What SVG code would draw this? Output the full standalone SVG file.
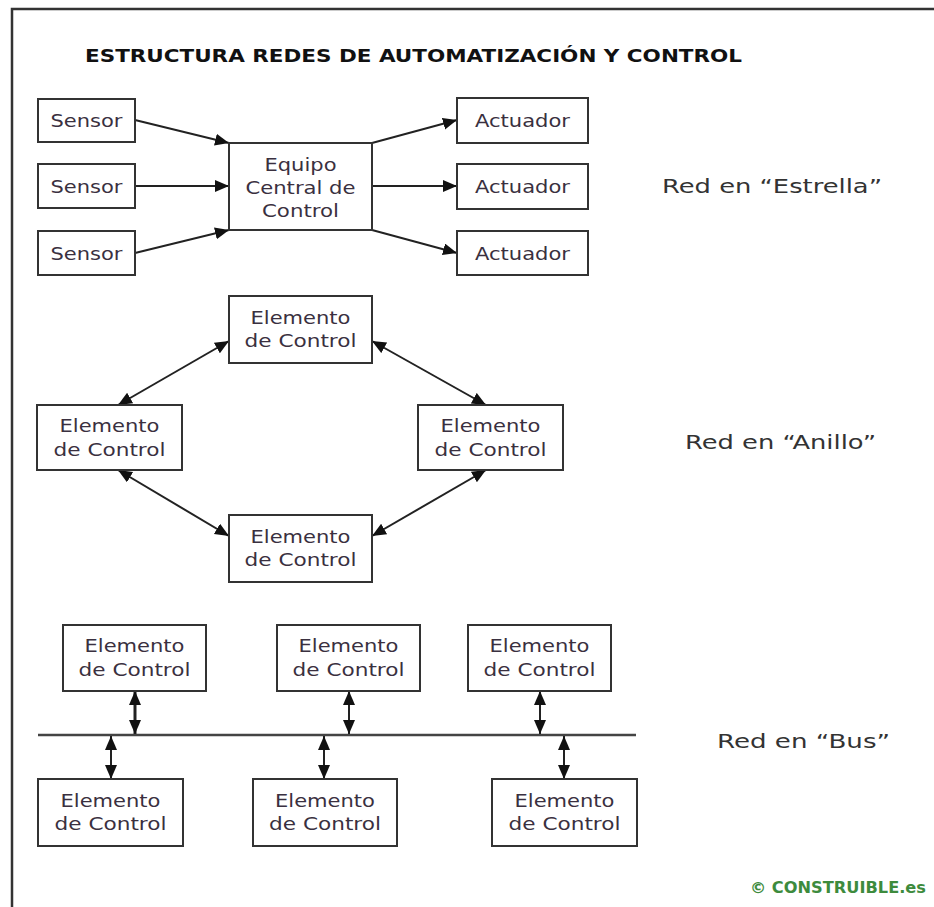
<svg xmlns="http://www.w3.org/2000/svg" width="934" height="907" viewBox="0 0 934 907">
<style>
.box{fill:#fff;stroke:#333;stroke-width:2}
.lbl{font-family:"DejaVu Sans",Verdana,sans-serif;font-size:18px;fill:#3a3040;text-anchor:middle}
.side{font-family:"DejaVu Sans",Verdana,sans-serif;font-size:20px;fill:#333;text-anchor:start}
.title{font-family:"DejaVu Sans",Verdana,sans-serif;font-size:17px;font-weight:bold;fill:#111}
.copy{font-family:"DejaVu Sans",Verdana,sans-serif;font-size:15px;font-weight:bold;fill:#3d8b3d}
.ln{stroke:#222;stroke-width:2;fill:none}
.one{marker-end:url(#ah)}
.two{marker-start:url(#ah);marker-end:url(#ah)}
</style>
<defs>
<marker id="ah" markerUnits="userSpaceOnUse" markerWidth="16" markerHeight="14" refX="14" refY="6" orient="auto-start-reverse">
<path d="M0,0 L14,6 L0,12 Z" fill="#111"/>
</marker>
</defs>
<rect x="0" y="0" width="934" height="907" fill="#fff"/>
<path d="M12,907 V9 H934" fill="none" stroke="#333" stroke-width="2.5"/>
<text class="title" x="85" y="62" textLength="657" lengthAdjust="spacingAndGlyphs">ESTRUCTURA REDES DE AUTOMATIZACIÓN Y CONTROL</text>

<g id="connectors">
<line class="ln one" x1="135" y1="120" x2="229" y2="143"/>
<line class="ln one" x1="135" y1="186" x2="229" y2="186"/>
<line class="ln one" x1="135" y1="253" x2="229" y2="230"/>
<line class="ln one" x1="372" y1="143" x2="457" y2="120"/>
<line class="ln one" x1="372" y1="186" x2="457" y2="186"/>
<line class="ln one" x1="372" y1="230" x2="457" y2="253"/>
<line class="ln two" x1="229" y1="341" x2="118" y2="405"/>
<line class="ln two" x1="372" y1="341" x2="486" y2="405"/>
<line class="ln two" x1="118" y1="470" x2="229" y2="536"/>
<line class="ln two" x1="486" y1="470" x2="372" y2="536"/>
<line x1="38" y1="735" x2="636" y2="735" stroke="#444" stroke-width="2.5"/>
<line class="ln two" x1="135" y1="691" x2="135" y2="734" style="stroke-width:3"/>
<line class="ln two" x1="349" y1="691" x2="349" y2="734"/>
<line class="ln two" x1="540" y1="691" x2="540" y2="734"/>
<line class="ln two" x1="111" y1="736" x2="111" y2="779"/>
<line class="ln two" x1="324" y1="736" x2="324" y2="779"/>
<line class="ln two" x1="564" y1="736" x2="564" y2="779"/>
</g>

<g id="sensor1"><rect class="box" x="38" y="99" width="97" height="43"/><text class="lbl" x="86.5" y="127" textLength="72" lengthAdjust="spacingAndGlyphs">Sensor</text></g>
<g id="sensor2"><rect class="box" x="38" y="164" width="97" height="44"/><text class="lbl" x="86.5" y="192.5" textLength="72" lengthAdjust="spacingAndGlyphs">Sensor</text></g>
<g id="sensor3"><rect class="box" x="38" y="231" width="97" height="44"/><text class="lbl" x="86.5" y="259.5" textLength="72" lengthAdjust="spacingAndGlyphs">Sensor</text></g>
<g id="central"><rect class="box" x="229" y="143" width="143" height="87"/>
<text class="lbl" x="300.5" y="171" textLength="72" lengthAdjust="spacingAndGlyphs">Equipo</text>
<text class="lbl" x="300.5" y="194" textLength="110" lengthAdjust="spacingAndGlyphs">Central de</text>
<text class="lbl" x="300.5" y="217" textLength="77" lengthAdjust="spacingAndGlyphs">Control</text></g>
<g id="actuador1"><rect class="box" x="457" y="98" width="131" height="45"/><text class="lbl" x="522.5" y="127" textLength="95" lengthAdjust="spacingAndGlyphs">Actuador</text></g>
<g id="actuador2"><rect class="box" x="457" y="164" width="131" height="45"/><text class="lbl" x="522.5" y="192.5" textLength="95" lengthAdjust="spacingAndGlyphs">Actuador</text></g>
<g id="actuador3"><rect class="box" x="457" y="231" width="131" height="44"/><text class="lbl" x="522.5" y="259.5" textLength="95" lengthAdjust="spacingAndGlyphs">Actuador</text></g>
<text class="side" x="662" y="193" textLength="220" lengthAdjust="spacingAndGlyphs">Red en “Estrella”</text>

<g id="ring-top"><rect class="box" x="229" y="296" width="143" height="67"/>
<text class="lbl" x="300.5" y="323.5" textLength="100" lengthAdjust="spacingAndGlyphs">Elemento</text>
<text class="lbl" x="300.5" y="347" textLength="112" lengthAdjust="spacingAndGlyphs">de Control</text></g>
<g id="ring-left"><rect class="box" x="37" y="405" width="145" height="65"/>
<text class="lbl" x="109.5" y="432" textLength="100" lengthAdjust="spacingAndGlyphs">Elemento</text>
<text class="lbl" x="109.5" y="455.5" textLength="112" lengthAdjust="spacingAndGlyphs">de Control</text></g>
<g id="ring-right"><rect class="box" x="418" y="405" width="145" height="65"/>
<text class="lbl" x="490.5" y="432" textLength="100" lengthAdjust="spacingAndGlyphs">Elemento</text>
<text class="lbl" x="490.5" y="455.5" textLength="112" lengthAdjust="spacingAndGlyphs">de Control</text></g>
<g id="ring-bottom"><rect class="box" x="229" y="515" width="143" height="67"/>
<text class="lbl" x="300.5" y="542.5" textLength="100" lengthAdjust="spacingAndGlyphs">Elemento</text>
<text class="lbl" x="300.5" y="566" textLength="112" lengthAdjust="spacingAndGlyphs">de Control</text></g>
<text class="side" x="685" y="449" textLength="191" lengthAdjust="spacingAndGlyphs">Red en “Anillo”</text>

<g id="bus-top1"><rect class="box" x="63" y="625" width="143" height="66"/>
<text class="lbl" x="134.5" y="652" textLength="100" lengthAdjust="spacingAndGlyphs">Elemento</text>
<text class="lbl" x="134.5" y="676" textLength="112" lengthAdjust="spacingAndGlyphs">de Control</text></g>
<g id="bus-top2"><rect class="box" x="277" y="625" width="143" height="66"/>
<text class="lbl" x="348.5" y="652" textLength="100" lengthAdjust="spacingAndGlyphs">Elemento</text>
<text class="lbl" x="348.5" y="676" textLength="112" lengthAdjust="spacingAndGlyphs">de Control</text></g>
<g id="bus-top3"><rect class="box" x="468" y="625" width="143" height="66"/>
<text class="lbl" x="539.5" y="652" textLength="100" lengthAdjust="spacingAndGlyphs">Elemento</text>
<text class="lbl" x="539.5" y="676" textLength="112" lengthAdjust="spacingAndGlyphs">de Control</text></g>
<g id="bus-bottom1"><rect class="box" x="38" y="779" width="145" height="67"/>
<text class="lbl" x="110.5" y="807" textLength="100" lengthAdjust="spacingAndGlyphs">Elemento</text>
<text class="lbl" x="110.5" y="830" textLength="112" lengthAdjust="spacingAndGlyphs">de Control</text></g>
<g id="bus-bottom2"><rect class="box" x="253" y="779" width="144" height="67"/>
<text class="lbl" x="325" y="807" textLength="100" lengthAdjust="spacingAndGlyphs">Elemento</text>
<text class="lbl" x="325" y="830" textLength="112" lengthAdjust="spacingAndGlyphs">de Control</text></g>
<g id="bus-bottom3"><rect class="box" x="492" y="779" width="145" height="67"/>
<text class="lbl" x="564.5" y="807" textLength="100" lengthAdjust="spacingAndGlyphs">Elemento</text>
<text class="lbl" x="564.5" y="830" textLength="112" lengthAdjust="spacingAndGlyphs">de Control</text></g>
<text class="side" x="717" y="748" textLength="173" lengthAdjust="spacingAndGlyphs">Red en “Bus”</text>

<text class="copy" x="750" y="893" textLength="176" lengthAdjust="spacingAndGlyphs">© CONSTRUIBLE.es</text>
</svg>
